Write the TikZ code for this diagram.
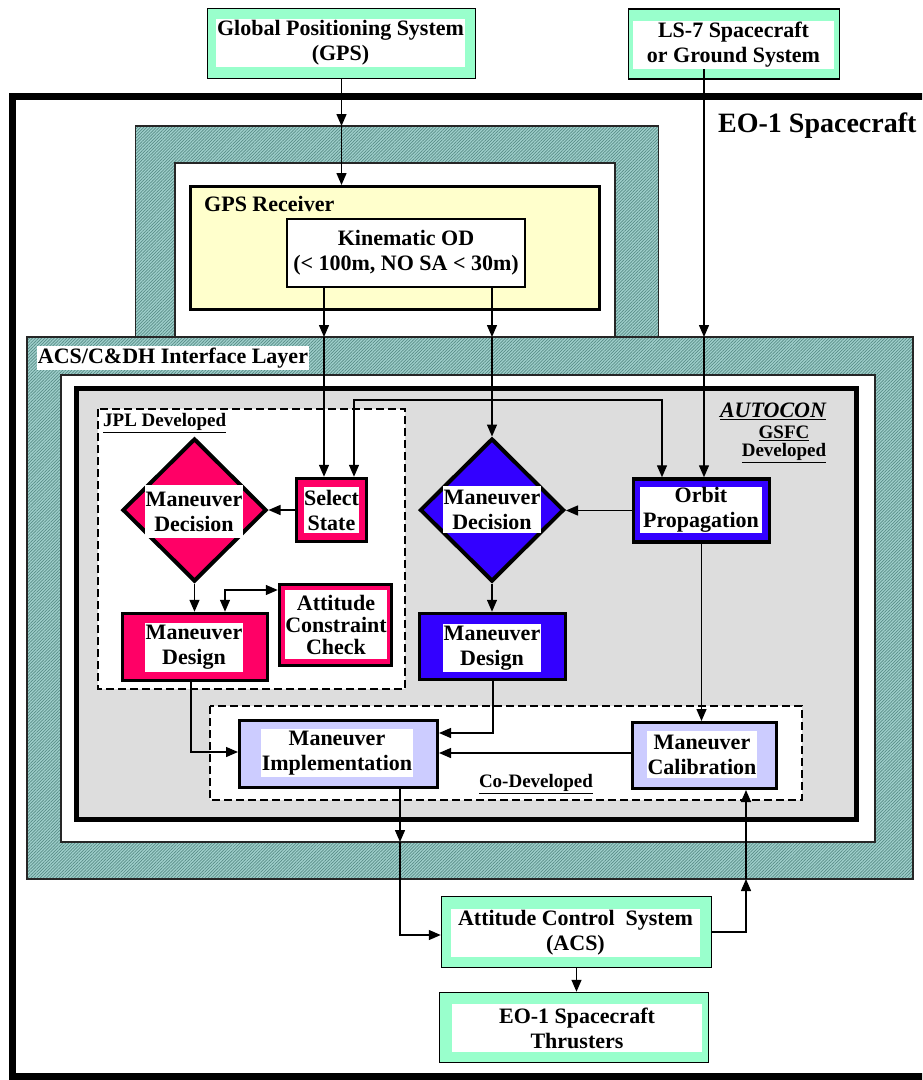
\documentclass[tikz,border=0pt]{standalone}
\usepackage{fontspec}
\setmainfont{Liberation Serif}
\usetikzlibrary{shapes.geometric,arrows.meta,patterns.meta}
\definecolor{boxgreen}{RGB}{153,255,204}
\definecolor{jplred}{RGB}{255,0,102}
\definecolor{gsfcblue}{RGB}{51,0,255}
\definecolor{codev}{RGB}{204,204,255}
\definecolor{rxyellow}{RGB}{255,255,204}
\definecolor{hatchbg}{RGB}{160,208,204}
\definecolor{hatchln}{RGB}{88,140,135}
\definecolor{autogray}{RGB}{221,221,221}
\begin{document}
\begin{tikzpicture}[x=1pt,y=-1pt,
  txt/.style={font=\fontsize{22}{25}\selectfont\bfseries, align=center},
  lbl/.style={font=\fontsize{19}{19}\selectfont\bfseries, align=center, inner sep=0pt},
  whitebox/.style={txt, fill=white, inner sep=0pt},
  greenbox/.style={draw=black, line width=1.5pt, fill=boxgreen, inner sep=0pt},
  redbox/.style={draw=black, line width=3.5pt, fill=jplred, inner sep=0pt},
  bluebox/.style={draw=black, line width=3.5pt, fill=gsfcblue, inner sep=0pt},
  lavbox/.style={draw=black, line width=3pt, fill=codev, inner sep=0pt},
  hatchband/.style={draw=black!85, line width=1.2pt, preaction={fill=hatchbg}, pattern={Lines[angle=45,distance=2.2pt,line width=0.7pt]}, pattern color=hatchln},
  plainwhite/.style={draw=black!85, line width=1.2pt, fill=white},
  dashbox/.style={draw=black, line width=2pt, dash pattern=on 8pt off 4pt, fill=white},
  arr/.style={-{Triangle[length=12pt,width=10pt]}, line width=1.4pt},
  darr/.style={{Triangle[length=12pt,width=10pt]}-{Triangle[length=12pt,width=10pt]}, line width=1.4pt}
]
\useasboundingbox (0,0) rectangle (922,1080);
\clip (0,0) rectangle (922,1080);
\fill[white] (0,0) rectangle (922,1080);

% EO-1 spacecraft frame
\draw[line width=7pt] (12.5,96) rectangle (940,1076.5);
\node[anchor=west, font=\fontsize{28}{30}\selectfont\bfseries, inner sep=0pt] (title) at (718,126) {EO-1 Spacecraft};

% upper hatched band (GPS receiver housing)
\path[hatchband] (135.5,126) rectangle (658.5,337);
\path[plainwhite] (175,163) rectangle (615,337);

% ACS / C&DH interface layer
\path[hatchband] (27,337) rectangle (913,879);
\path[plainwhite] (61,375) rectangle (875,842);
\node[txt, fill=white, inner sep=0pt, minimum width=272pt, minimum height=24pt] (acslabel) at (173,358) {ACS/C\&DH Interface Layer};

% AUTOCON gray box
\draw[line width=5pt, fill=autogray] (76.5,388.5) rectangle (856.5,819.5);

% coordinates on band edges
\coordinate (bandtop) at (0,126);
\coordinate (acstop) at (0,337);
\coordinate (acsinbot) at (0,842);
\coordinate (acsbot) at (0,879);

% dashed groups
\path[dashbox] (98,409) rectangle (405,689);
\path[dashbox] (210,706) rectangle (802,800);
\node[lbl, anchor=west] (jpllbl) at (103,423) {\underline{JPL Developed}};
\node[lbl] (colbl) at (536,784) {\underline{Co-Developed}};
\node[txt, inner sep=0pt] (autolbl) at (773,411) {\bfseries\itshape\underline{AUTOCON}};
\node[lbl, font=\fontsize{19}{18}\selectfont\bfseries] (gsfclbl) at (784,444) {\underline{GSFC}\\\underline{Developed}};

% external boxes
\node[greenbox, minimum width=268pt, minimum height=70pt] (gps) at (341.5,43.5) {};
\node[whitebox, minimum width=249pt, minimum height=48pt] (gps-t) at (340.5,43) {Global Positioning System\\(GPS)};
\node[greenbox, minimum width=211pt, minimum height=70pt] (ls7) at (734,44) {};
\node[whitebox, minimum width=201pt, minimum height=48pt] (ls7-t) at (733.5,45) {LS-7 Spacecraft\\or Ground System};

% GPS receiver
\node[draw=black, line width=3pt, fill=rxyellow, minimum width=409pt, minimum height=123pt, inner sep=0pt] (gpsrx) at (395,248) {};
\node[txt, anchor=west, inner sep=0pt] (rxlbl) at (204,204) {GPS Receiver};
\node[draw=black, line width=2.5pt, fill=white, minimum width=238pt, minimum height=68pt, inner sep=0pt, txt] (kod) at (406,253) {Kinematic OD\\(< 100m, NO SA < 30m)};

% JPL developed
\node[diamond, draw=black, line width=4pt, fill=jplred, minimum width=144pt, minimum height=143pt, inner sep=0pt] (rd) at (194.5,510) {};
\node[whitebox, minimum width=98pt, minimum height=53pt] (rd-t) at (194,511.5) {Maneuver\\Decision};
\node[redbox, minimum width=70pt, minimum height=63pt] (ss) at (331.5,510) {};
\node[whitebox, minimum width=55pt, minimum height=46pt] (ss-t) at (331.5,510) {Select\\State};
\node[redbox, minimum width=145pt, minimum height=67pt] (rdes) at (195,647) {};
\node[whitebox, minimum width=98pt, minimum height=49pt] (rdes-t) at (194,647.5) {Maneuver\\Design};
\node[redbox, minimum width=112pt, minimum height=81pt] (acc) at (335.5,625) {};
\node[whitebox, minimum width=102pt, minimum height=69pt, font=\fontsize{22}{22}\selectfont\bfseries] (acc-t) at (336,624.5) {Attitude\\Constraint\\Check};

% GSFC developed
\node[diamond, draw=black, line width=4pt, fill=gsfcblue, minimum width=144pt, minimum height=143pt, inner sep=0pt] (bd) at (492,510) {};
\node[whitebox, minimum width=98pt, minimum height=47pt] (bd-t) at (492,509.5) {Maneuver\\Decision};
\node[bluebox, minimum width=136pt, minimum height=63pt] (op) at (701.5,510.5) {};
\node[whitebox, minimum width=122pt, minimum height=46pt] (op-t) at (701,510) {Orbit\\Propagation};
\node[bluebox, minimum width=146pt, minimum height=66pt] (bdes) at (492.5,646.5) {};
\node[whitebox, minimum width=98pt, minimum height=48pt] (bdes-t) at (492,648) {Maneuver\\Design};

% co-developed
\node[lavbox, minimum width=198pt, minimum height=67pt] (impl) at (338.5,754) {};
\node[whitebox, minimum width=152pt, minimum height=48pt] (impl-t) at (337,753) {Maneuver\\Implementation};
\node[lavbox, minimum width=144pt, minimum height=66pt] (calib) at (704.5,755.5) {};
\node[whitebox, minimum width=110pt, minimum height=47pt] (calib-t) at (702,754.5) {Maneuver\\Calibration};

% ACS and thrusters
\node[greenbox, minimum width=270pt, minimum height=71pt] (acs) at (576.5,932) {};
\node[whitebox, minimum width=249pt, minimum height=48pt] (acs-t) at (575.5,933) {Attitude Control\ \ System\\(ACS)};
\node[greenbox, minimum width=269pt, minimum height=70pt] (thr) at (574,1027.5) {};
\node[whitebox, minimum width=250pt, minimum height=48pt] (thr-t) at (577,1028) {EO-1 Spacecraft\\Thrusters};

% connector helper coordinates
\coordinate (k1) at (324,288);
\coordinate (k2) at (492,288);
\coordinate (l1) at (704,69);
\coordinate (r1) at (354,400);
\coordinate (r2) at (662,400);
\coordinate (a1) at (225,590);
\coordinate (d1) at (191,752);
\coordinate (d2) at (493,733);
\coordinate (d3) at (0,753);
\coordinate (d4) at (400,935);
\coordinate (d5) at (746,932);

% connectors
\draw[arr] (gps.south) -- (gps.south |- bandtop);
\draw[arr] (gps.south |- bandtop) -- (gps.south |- gpsrx.north);
\draw[arr] (k1) -- (k1 |- acstop);
\draw[arr] (k1 |- acstop) -- (k1 |- ss.north);
\draw[arr] (k2) -- (k2 |- acstop);
\draw[arr] (k2 |- acstop) -- (bd.north);
\draw[arr] (l1) -- (l1 |- acstop);
\draw[arr] (l1 |- acstop) -- (l1 |- op.north);
\draw[darr] (r1 |- ss.north) -- (r1) -- (r2) -- (r2 |- op.north);
\draw[arr] (ss.west) -- (rd.east);
\draw[arr] (rd.south) -- (rd.south |- rdes.north);
\draw[darr] (a1 |- rdes.north) -- (a1) -- (a1 -| acc.west);
\draw[arr] (op.west) -- (op.west -| bd.east);
\draw[arr] (bd.south) -- (bd.south |- bdes.north);
\draw[arr] (op.south) -- (op.south |- calib.north);
\draw[arr] (d1 |- rdes.south) -- (d1) -- (d1 -| impl.west);
\draw[arr] (d2 |- bdes.south) -- (d2) -- (d2 -| impl.east);
\draw[arr] (calib.west |- d3) -- (impl.east |- d3);
\draw[arr] (d4 |- impl.south) -- (d4 |- acsinbot);
\draw[arr] (d4 |- acsinbot) -- (d4) -- (d4 -| acs.west);
\draw[arr] (acs.east |- d5) -- (d5) -- (d5 |- acsbot);
\draw[arr] (d5 |- acsbot) -- (d5 |- calib.south);
\draw[arr] (acs.south) -- (acs.south |- thr.north);
\end{tikzpicture}
\end{document}
